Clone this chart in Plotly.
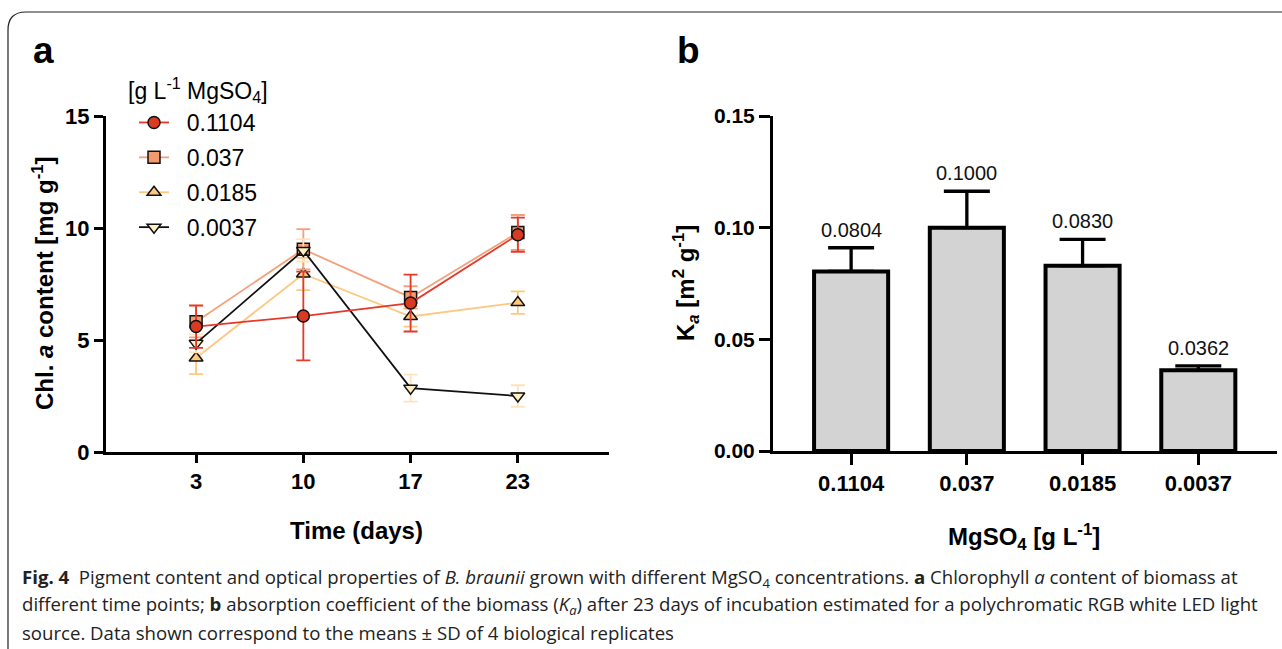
import plotly.graph_objects as go

W, H = 1282, 649

# ---------------- data ----------------
days = ["3", "10", "17", "23"]
conc_labels = ["0.1104", "0.037", "0.0185", "0.0037"]

chl_01104 = [5.6, 6.07, 6.65, 9.7]
chl_01104_sd = [0.95, 1.98, 1.27, 0.76]
chl_0037 = [5.82, 9.05, 6.9, 9.8]
chl_0037_sd = [0.7, 0.9, 0.5, 0.78]
chl_00185 = [4.2, 7.95, 6.05, 6.67]
chl_00185_sd = [0.72, 0.72, 0.45, 0.5]
chl_00037 = [4.85, 9.0, 2.85, 2.5]
chl_00037_sd = [0.4, 0.5, 0.6, 0.48]

ka_values = [0.0804, 0.1000, 0.0830, 0.0362]
ka_sd = [0.0106, 0.0163, 0.0118, 0.0019]

# ---------------- figure ----------------
fig = go.Figure()

def px_x(x):
    return x / W

def px_y(y):
    return 1 - y / H

FONT = "Liberation Sans, Arial, sans-serif"
NB = "\u00a0"

series = [
    # name, values, sd, symbol, fill, line colour, error colour, legend rank
    ("0.0185", chl_00185, chl_00185_sd, "triangle-up", "#fdc77f", "#fdc880", "#fdc880", 3),
    ("0.037", chl_0037, chl_0037_sd, "square", "#f59a6c", "#f5a07c", "#f5a07c", 2),
    ("0.0037", chl_00037, chl_00037_sd, "triangle-down", "#fff0c4", "#111111", "#ffe2c0", 4),
    ("0.1104", chl_01104, chl_01104_sd, "circle", "#d93a22", "#e5392a", "#e5392a", 1),
]

for name, vals, sd, sym, fill, lcol, ecol, rank in series:
    fig.add_trace(go.Scatter(
        x=days, y=vals, name=NB + NB + name, mode="lines+markers",
        xaxis="x", yaxis="y",
        line=dict(color=lcol, width=1.8),
        marker=dict(symbol=sym, size=12, color=fill, line=dict(color="#111111", width=1.5)),
        error_y=dict(type="data", array=sd, visible=True, color=ecol, thickness=1.8, width=7),
        legendrank=rank, legendgroup=name,
    ))

fig.add_trace(go.Bar(
    x=conc_labels, y=ka_values, xaxis="x2", yaxis="y2", width=0.64,
    marker=dict(color="#d3d3d3", line=dict(color="#000000", width=4)),
    error_y=dict(type="data", array=ka_sd, arrayminus=[0] * len(ka_sd), symmetric=False,
                 visible=True, color="#000000", thickness=3.3, width=23),
    showlegend=False,
))

annotations = []
for i, (v, s) in enumerate(zip(ka_values, ka_sd)):
    annotations.append(dict(x=i, y=v + s, xref="x2", yref="y2", text=f"{v:.4f}",
                            showarrow=False, xanchor="center", yanchor="bottom", yshift=5,
                            font=dict(family=FONT, size=20, color="#111111")))

def lab(x, y, text, size=24, angle=0, weight="bold", xanchor="center"):
    return dict(x=px_x(x), y=px_y(y), xref="paper", yref="paper", text=text,
                textangle=angle, showarrow=False, xanchor=xanchor, yanchor="middle",
                font=dict(family=FONT, size=size, color="#000000", weight=weight))

annotations += [
    lab(43, 283, "Chl. <i>a</i> content [mg g<sup>-1</sup>]", angle=-90),
    lab(356, 530, "Time (days)"),
    lab(686, 283, "K<sub><i>a</i></sub> [m<sup>2</sup> g<sup>-1</sup>]", angle=-90),
    lab(1024, 537, "MgSO<sub>4</sub> [g L<sup>-1</sup>]"),
    lab(43, 50, "a", size=37),
    lab(689, 50, "b", size=37),
    lab(126, 90, "[g L<sup>-1</sup> MgSO<sub>4</sub>]", size=23, weight="normal", xanchor="left"),
]

cap_font = dict(family="Open Sans, sans-serif", size=18.6, color="#222222")
caption = [
    "<b>Fig. 4</b>  Pigment content and optical properties of <i>B. braunii</i> grown with different "
    "MgSO<sub>4</sub> concentrations. <b>a</b> Chlorophyll <i>a</i> content of biomass at",
    "different time points; <b>b</b> absorption coefficient of the biomass (<i>K<sub>a</sub></i>) after "
    "23 days of incubation estimated for a polychromatic RGB white LED light",
    "source. Data shown correspond to the means ± SD of 4 biological replicates",
]
for i, line in enumerate(caption):
    annotations.append(dict(x=px_x(20), y=px_y(578 + 27 * i), xref="paper", yref="paper",
                            text=line, showarrow=False, xanchor="left", yanchor="middle",
                            font=cap_font))

# frame
x0, y0, r = 8, 12, 18
path = (f"M {px_x(x0)},{px_y(H + 5)} L {px_x(x0)},{px_y(y0 + r)} "
        f"Q {px_x(x0)},{px_y(y0)} {px_x(x0 + r)},{px_y(y0)} L {px_x(W + 5)},{px_y(y0)}")
shapes = [dict(type="path", xref="paper", yref="paper", path=path,
               line=dict(color="#222222", width=1.2))]

axis_common = dict(showgrid=False, zeroline=False, showline=True, linecolor="#000000",
                   linewidth=3, ticks="outside", tickcolor="#000000", tickwidth=3,
                   automargin=False)
tf = dict(family=FONT, size=22, color="#000000", weight="bold")

fig.update_layout(
    width=W, height=H, margin=dict(l=0, r=0, t=0, b=0, pad=0, autoexpand=False),
    paper_bgcolor="white", plot_bgcolor="white",
    xaxis=dict(domain=[px_x(106), px_x(609)], anchor="y", type="category",
               categoryorder="array", categoryarray=days, range=[-0.84, 3.85],
               ticklen=8, tickfont=tf, **axis_common),
    yaxis=dict(domain=[px_y(452), px_y(116)], anchor="x", range=[0, 15],
               tickvals=[0, 5, 10, 15], ticklen=9, tickfont=tf, **axis_common),
    xaxis2=dict(domain=[px_x(773), px_x(1277)], anchor="y2", type="category",
                categoryorder="array", categoryarray=conc_labels, range=[-0.675, 3.68],
                ticklen=11, tickfont=tf, **axis_common),
    yaxis2=dict(domain=[px_y(451), px_y(116)], anchor="x2", range=[0, 0.15],
                tickvals=[0, 0.05, 0.10, 0.15], ticktext=["0.00", "0.05", "0.10", "0.15"],
                ticklen=11, tickfont=dict(tf, size=21), **axis_common),
    showlegend=True,
    legend=dict(x=px_x(134), y=px_y(101), xanchor="left", yanchor="top",
                bgcolor="rgba(0,0,0,0)", tracegroupgap=2,
                font=dict(family=FONT, size=23, color="#000000")),
    annotations=annotations, shapes=shapes,
)

fig.write_html("out.html", config={"displayModeBar": False},
               post_script="document.body.style.margin='0px';")
